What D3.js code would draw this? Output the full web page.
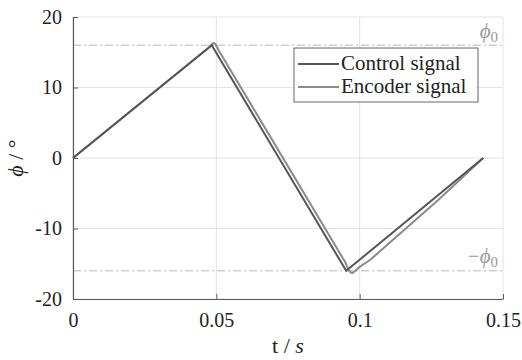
<!DOCTYPE html>
<html>
<head>
<meta charset="utf-8">
<script src="https://cdn.jsdelivr.net/npm/d3@7"></script>
</head>
<body style="margin:0">
<svg id="chart" width="522" height="360"></svg>
<script>
// control signal: triangle wave
var controlT = [0, 0.0484, 0.0953, 0.1431];
var controlV = [0, 16, -16, 0];

// encoder signal: lags a little, rounds over at the corners
var encoderT = [0, 0.0476, 0.0482, 0.0487, 0.0492, 0.0497, 0.0502, 0.0510, 0.0950, 0.0957, 0.0963, 0.0969, 0.0975, 0.0982, 0.0992, 0.1001, 0.1036, 0.1274, 0.1431];
var encoderV = [0, 15.75, 16.05, 16.25, 16.3, 16.15, 15.75, 15.15, -14.8, -15.5, -16.0, -16.25, -16.3, -16.1, -15.75, -15.4, -14.47, -5.96, 0];

var xTicks = [0, 0.05, 0.1, 0.15];
var xTickLabels = ["0", "0.05", "0.1", "0.15"];
var yTicks = [-20, -10, 0, 10, 20];
var yTickLabels = ["-20", "-10", "0", "10", "20"];
var phi0 = 16;
var seriesNames = ["Control signal", "Encoder signal"];
var seriesColors = ["#555555", "#8a8a8a"];

var serif = "'Liberation Serif'";

var margin = {top: 17, right: 19, bottom: 61, left: 73},
    width = 522 - margin.left - margin.right,
    height = 360 - margin.top - margin.bottom;

var x = d3.scaleLinear().domain([0, 0.15]).range([0, width]);
var y = d3.scaleLinear().domain([-20, 20]).range([height, 0]);

var svg = d3.select("#chart")
  .append("g")
    .attr("transform", "translate(" + margin.left + "," + margin.top + ")");

// grid
svg.selectAll(".gx").data(xTicks).enter().append("line")
    .attr("x1", function (d) { return x(d); })
    .attr("x2", function (d) { return x(d); })
    .attr("y1", 0).attr("y2", height)
    .attr("stroke", "#e3e3e3").attr("stroke-width", 1);
svg.selectAll(".gy").data(yTicks).enter().append("line")
    .attr("x1", 0).attr("x2", width)
    .attr("y1", function (d) { return y(d); })
    .attr("y2", function (d) { return y(d); })
    .attr("stroke", "#e3e3e3").attr("stroke-width", 1);

// +-phi0 dash-dot lines
svg.selectAll(".phi").data([phi0, -phi0]).enter().append("line")
    .attr("x1", 0).attr("x2", width)
    .attr("y1", function (d) { return y(d); })
    .attr("y2", function (d) { return y(d); })
    .attr("stroke", "#b5b5b5").attr("stroke-width", 1)
    .attr("stroke-dasharray", "8,3,2,3");

function serifText(sel, size) {
  return sel.style("font-family", serif, "important").style("font-size", size + "px");
}

var lbl = serifText(svg.append("text")
    .attr("x", width - 5).attr("y", y(phi0) - 7)
    .attr("text-anchor", "end").attr("fill", "#999"), 21);
lbl.append("tspan").style("font-style", "italic").text("ϕ");
lbl.append("tspan").attr("dy", 4).style("font-size", "15px").text("0");

var lbl2 = serifText(svg.append("text")
    .attr("x", width - 5).attr("y", y(-phi0) - 8)
    .attr("text-anchor", "end").attr("fill", "#999"), 21);
lbl2.append("tspan").text("−");
lbl2.append("tspan").style("font-style", "italic").text("ϕ");
lbl2.append("tspan").attr("dy", 4).style("font-size", "15px").text("0");

// lines
var line = d3.line()
  .x(function (d) { return x(d[0]); })
  .y(function (d) { return y(d[1]); });

var control = d3.zip(controlT, controlV);
var encoder = d3.zip(encoderT, encoderV);

svg.append("path").datum(encoder)
    .attr("fill", "none").attr("stroke", seriesColors[1]).attr("stroke-width", 2)
    .attr("stroke-linejoin", "round")
    .attr("d", line);
svg.append("path").datum(control)
    .attr("fill", "none").attr("stroke", seriesColors[0]).attr("stroke-width", 2)
    .attr("d", line);

// axes
var xAxis = d3.axisBottom(x).tickValues(xTicks).tickSizeInner(-5).tickSizeOuter(0)
    .tickPadding(11).tickFormat(function (d, i) { return xTickLabels[i]; });
var yAxis = d3.axisLeft(y).tickValues(yTicks).tickSizeInner(-5).tickSizeOuter(0)
    .tickPadding(11).tickFormat(function (d, i) { return yTickLabels[i]; });

var gx = svg.append("g").attr("transform", "translate(0," + height + ")").call(xAxis);
var gy = svg.append("g").call(yAxis);
[gx, gy].forEach(function (g) {
  g.attr("font-family", null).attr("font-size", null);
  g.select(".domain").attr("stroke", "#5a5a5a").attr("stroke-width", 1.2);
  g.selectAll(".tick line").attr("stroke", "#5a5a5a");
  serifText(g.selectAll(".tick text").attr("fill", "#222"), 20);
});
gx.selectAll(".tick text").attr("dy", "0.85em");

// axis titles
var xt = serifText(svg.append("text")
    .attr("x", width / 2).attr("y", height + 54)
    .attr("text-anchor", "middle").attr("fill", "#222"), 22);
xt.append("tspan").text("t / ");
xt.append("tspan").style("font-style", "italic").text("s");

var yt = serifText(svg.append("text")
    .attr("transform", "translate(" + (-50) + "," + (height / 2) + ") rotate(-90)")
    .attr("text-anchor", "middle").attr("fill", "#222"), 22);
yt.append("tspan").style("font-style", "italic").text("ϕ");
yt.append("tspan").text(" / °");

// legend
var leg = svg.append("g").attr("transform", "translate(" + (x(0.0771)) + "," + (y(15.6)) + ")");
leg.append("rect").attr("width", 184).attr("height", 54)
    .attr("fill", "#fff").attr("stroke", "#666").attr("stroke-width", 1);
seriesNames.forEach(function (name, i) {
  var yy = 16 + i * 23;
  leg.append("line").attr("x1", 4).attr("x2", 45).attr("y1", yy).attr("y2", yy)
      .attr("stroke", seriesColors[i]).attr("stroke-width", 2);
  serifText(leg.append("text").attr("x", 47).attr("y", yy + 6)
      .attr("fill", "#222"), 21).text(name);
});
</script>
</body>
</html>
